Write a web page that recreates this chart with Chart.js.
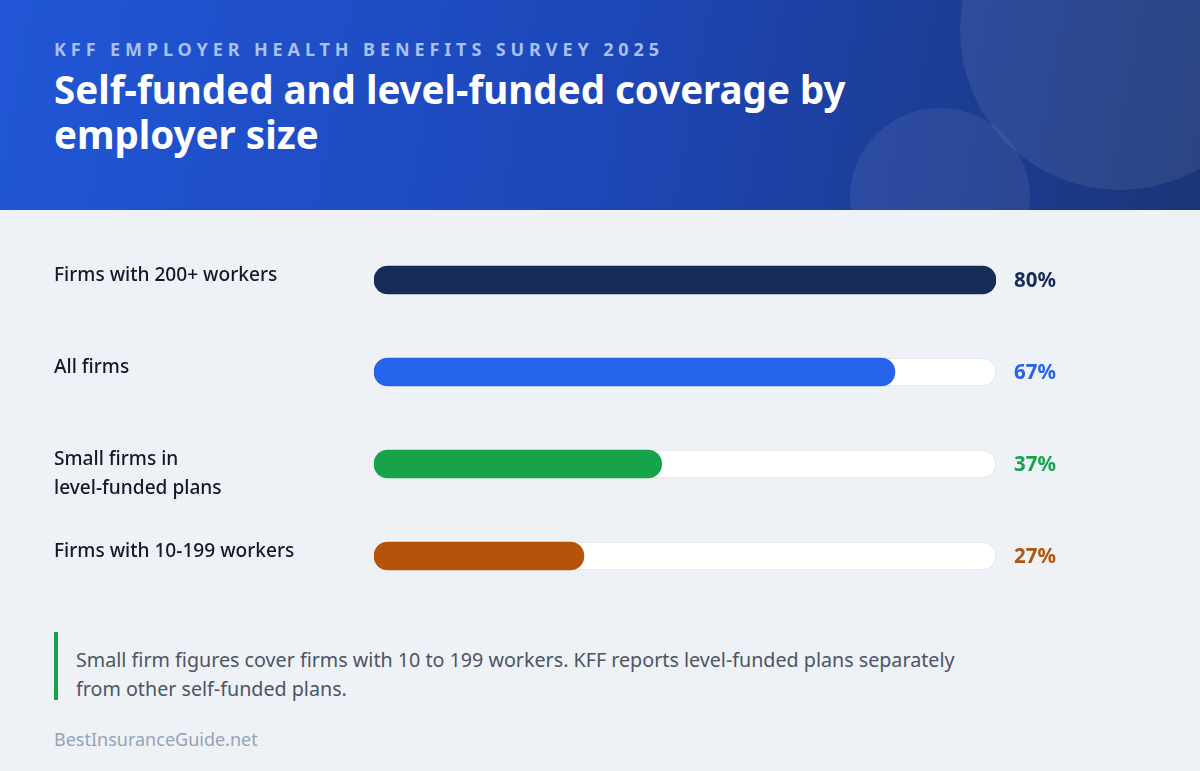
<!DOCTYPE html>
<html>
<head>
<meta charset="utf-8">
<script src="https://cdn.jsdelivr.net/npm/chart.js@4"></script>
<style>
  body { margin: 0; width: 1200px; height: 771px; background: #eef2f7; font-family: "Noto Sans", sans-serif; overflow: hidden; position: relative; }
  .head { position: absolute; left: 0; top: 0; width: 1200px; height: 210px; overflow: hidden;
    background: linear-gradient(100deg, #2156d6 0%, #1d47b8 50%, #1b3578 100%); }
  .c1 { position: absolute; left: 960px; top: -130px; width: 320px; height: 320px; border-radius: 50%; background: rgba(255,255,255,0.08); }
  .c2 { position: absolute; left: 850px; top: 108px; width: 180px; height: 180px; border-radius: 50%; background: rgba(255,255,255,0.07); }
  .kicker { position: absolute; left: 54px; top: 37px; color: #a9c0f2; font-weight: 700; font-size: 18px; letter-spacing: 4.9px; }
  h1 { position: absolute; left: 54px; top: 67px; margin: 0; color: #fff; font-size: 38.5px; line-height: 45px; font-weight: 700; width: 880px; }
  #wrap { position: absolute; left: 0; top: 210px; width: 1200px; height: 420px; }
  .note { position: absolute; left: 54px; top: 632px; height: 68px; border-left: 4px solid #16a34a; padding-left: 18px; color: #4b5563; font-size: 19.7px; line-height: 29px; width: 960px; box-sizing: border-box; padding-top: 13px; white-space: nowrap; }
  .src { position: absolute; left: 54px; top: 727px; color: #94a3b8; font-size: 18px; }
</style>
</head>
<body>
<div class="head"><div class="c1"></div><div class="c2"></div>
  <div class="kicker">KFF EMPLOYER HEALTH BENEFITS SURVEY 2025</div>
  <h1>Self-funded and level-funded coverage by employer size</h1>
</div>
<div id="wrap"><canvas id="chart"></canvas></div>
<div class="note">Small firm figures cover firms with 10 to 199 workers. KFF reports level-funded plans separately<br>from other self-funded plans.</div>
<div class="src">BestInsuranceGuide.net</div>
<script>
const categories = [["Firms with 200+ workers"], ["All firms"], ["Small firms in", "level-funded plans"], ["Firms with 10-199 workers"]];
const values = [80, 67, 37, 27];
const colors = ["#172b57", "#2563eb", "#16a34a", "#b45309"];
const scaleMax = 80;

const sideLabels = {
  id: "sideLabels",
  afterDatasetsDraw(chart) {
    const ctx = chart.ctx;
    const meta = chart.getDatasetMeta(1);
    ctx.save();
    meta.data.forEach((bar, i) => {
      const lines = categories[i];
      ctx.fillStyle = "#111827";
      ctx.font = "500 19.1px 'Noto Sans'";
      ctx.textBaseline = "middle";
      ctx.textAlign = "left";
      lines.forEach((l, j) => ctx.fillText(l, 54, bar.y - 4 + j * 29));
      ctx.fillStyle = colors[i];
      ctx.font = "bold 20.5px 'Noto Sans'";
      ctx.fillText(values[i] + "%", 1014, bar.y + 1);
    });
    ctx.restore();
  }
};

new Chart(document.getElementById("chart"), {
  type: "bar",
  data: {
    labels: categories.map(c => c.join(" ")),
    datasets: [
      { data: values.map(() => scaleMax), backgroundColor: "#ffffff", borderColor: "#dde3ec", borderWidth: 1,
        borderRadius: 14, borderSkipped: false, barThickness: 28, grouped: false, order: 2 },
      { data: values, backgroundColor: colors, borderRadius: 14, borderSkipped: false, barThickness: 28, grouped: false, order: 1 }
    ]
  },
  options: {
    indexAxis: "y",
    responsive: true,
    maintainAspectRatio: false,
    animation: false,
    layout: { padding: { left: 374, right: 204, top: 24, bottom: 28 } },
    scales: {
      x: { display: false, min: 0, max: scaleMax },
      y: { display: false }
    },
    plugins: { legend: { display: false }, tooltip: { enabled: false } }
  },
  plugins: [sideLabels]
});
</script>
</body>
</html>
